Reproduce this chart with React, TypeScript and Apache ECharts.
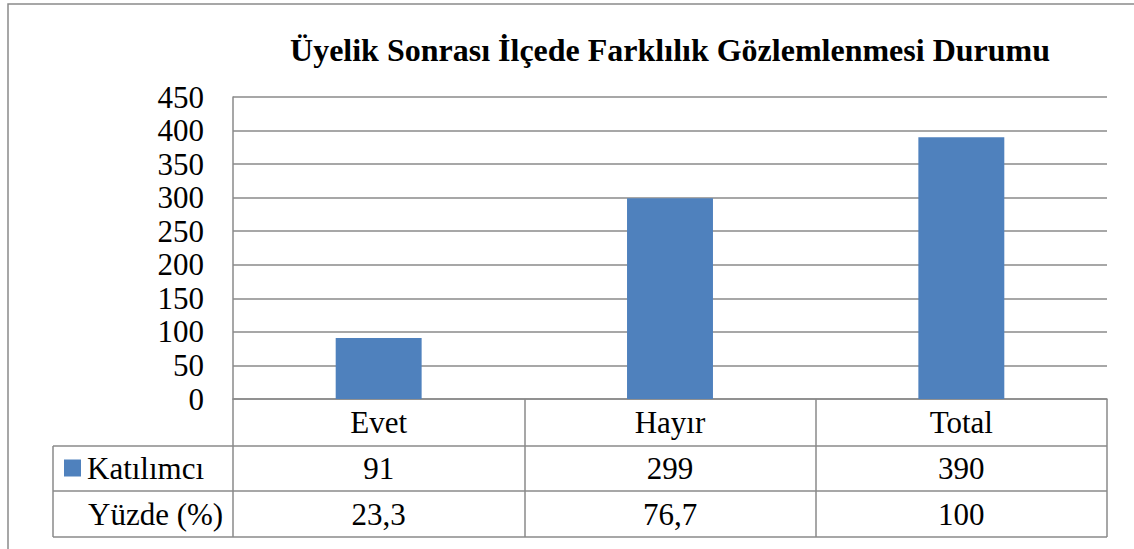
import React, { useEffect, useRef } from "react";
import * as echarts from "echarts";

const TITLE = "Üyelik Sonrası İlçede Farklılık Gözlemlenmesi Durumu";
const categories = ["Evet", "Hayır", "Total"];
const seriesName = "Katılımcı";
const counts = [91, 299, 390];
const percentRowName = "Yüzde (%)";
const percents = ["23,3", "76,7", "100"];
const yTicks = { min: 0, max: 450, interval: 50 };

const FONT = "Liberation Serif";
const FS = 31;
const GRID = "#8a8a8a";

export default function App() {
  const ref = useRef<HTMLDivElement>(null);
  useEffect(() => {
    if (!ref.current) return;
    const chart = echarts.init(ref.current, null, { renderer: "svg" });
    const left = 233;
    const right = 1107;
    const rowTop = 399;
    const rowH = [47, 45, 46];
    const r1 = rowTop + rowH[0];
    const r2 = r1 + rowH[1];
    const r3 = r2 + rowH[2];
    const tableLeft = 53;
    const ls = { stroke: GRID, lineWidth: 1.5 };
    chart.setOption({
      animation: false,
      textStyle: { fontFamily: FONT },
      grid: { left, right: 1134 - right, top: 97, bottom: 549 - rowTop, containLabel: false },
      legend: {
        data: [seriesName],
        left: 64,
        top: 452,
        padding: 0,
        icon: "rect",
        itemWidth: 17,
        itemHeight: 17,
        itemGap: 6,
        textStyle: { fontFamily: FONT, fontSize: FS, color: "#000", lineHeight: 32, padding: [0, 0, 0, 1] },
      },
      xAxis: {
        type: "category",
        data: categories,
        axisLine: { show: true, lineStyle: { color: GRID, width: 1.5 } },
        axisTick: { show: true, length: r3 - rowTop, alignWithLabel: false, interval: 0, lineStyle: { color: GRID, width: 1.5 } },
        axisLabel: {
          interval: 0,
          margin: 0,
          fontFamily: FONT,
          color: "#000",
          formatter: (v: string, i: number) => `{a|${v}}\n{b|${counts[i]}}\n{c|${percents[i]}}`,
          rich: {
            a: { fontFamily: FONT, fontSize: FS, color: "#000", lineHeight: rowH[0], height: rowH[0] },
            b: { fontFamily: FONT, fontSize: FS, color: "#000", lineHeight: rowH[1], height: rowH[1] },
            c: { fontFamily: FONT, fontSize: FS, color: "#000", lineHeight: rowH[2], height: rowH[2] },
          },
        },
      },
      yAxis: {
        type: "value",
        min: yTicks.min,
        max: yTicks.max,
        interval: yTicks.interval,
        axisLine: { show: true, lineStyle: { color: GRID, width: 1.5 } },
        axisTick: { show: false },
        axisLabel: { fontFamily: FONT, fontSize: FS, color: "#000", margin: 29 },
        splitLine: { show: true, lineStyle: { color: GRID, width: 1.5 } },
      },
      series: [
        {
          name: seriesName,
          type: "bar",
          data: counts,
          barWidth: "29.5%",
          itemStyle: { color: "#4F81BD" },
        },
      ],
      graphic: [
        { type: "rect", shape: { x: 8, y: 4, width: 1400, height: 800 }, style: { fill: "none", stroke: GRID, lineWidth: 1.5 }, silent: true },
        {
          type: "text",
          x: 670,
          y: 50,
          style: { text: TITLE, fontFamily: FONT, fontSize: 32, fontWeight: "bold", fill: "#000", textAlign: "center", textVerticalAlign: "middle" },
        },
        { type: "line", shape: { x1: tableLeft, y1: r1, x2: right, y2: r1 }, style: ls },
        { type: "line", shape: { x1: tableLeft, y1: r2, x2: right, y2: r2 }, style: ls },
        { type: "line", shape: { x1: tableLeft, y1: r3, x2: right, y2: r3 }, style: ls },
        { type: "line", shape: { x1: tableLeft, y1: r1, x2: tableLeft, y2: r3 }, style: ls },
        {
          type: "text",
          x: 88,
          y: r2 + rowH[2] / 2,
          style: { text: percentRowName, fontFamily: FONT, fontSize: FS, fill: "#000", textAlign: "left", textVerticalAlign: "middle" },
        },
      ],
    });
    return () => chart.dispose();
  }, []);
  return <div ref={ref} style={{ position: "fixed", left: 0, top: 0, width: 1134, height: 549, background: "#fff" }} />;
}
